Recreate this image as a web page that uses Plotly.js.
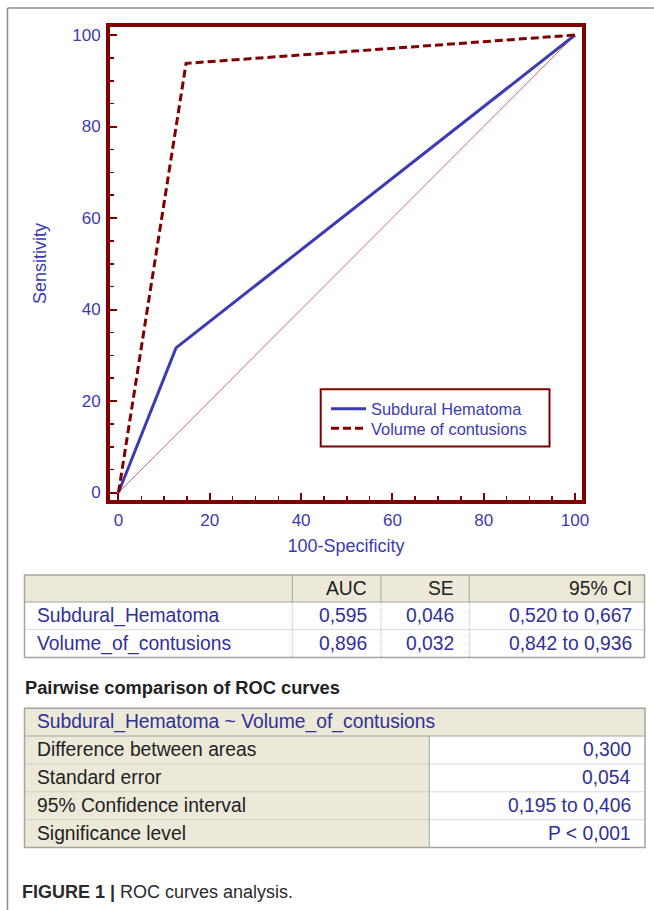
<!DOCTYPE html>
<html>
<head>
<meta charset="utf-8">
<script src="https://cdn.plot.ly/plotly-3.0.1.min.js"></script>
<style>
  html, body { margin: 0; padding: 0; background: #ffffff; }
  #chart { width: 654px; height: 910px; }
</style>
</head>
<body>
<div id="chart"></div>
<script>
// ---------- data ----------
const seriesNames = ['Subdural Hematoma', 'Volume of contusions'];
const subduralFPR = [0, 12.6, 100];      // 100-Specificity
const subduralSens = [0, 31.6, 100];     // Sensitivity
const volumeFPR = [0, 14.8, 100];
const volumeSens = [0, 93.8, 100];
const diagX = [0, 100];
const diagY = [0, 100];
const axisTicks = [0, 20, 40, 60, 80, 100];

const aucHeaders = ['AUC', 'SE', '95% CI'];
const rocNames = ['Subdural_Hematoma', 'Volume_of_contusions'];
const aucValues = ['0,595', '0,896'];
const seValues = ['0,046', '0,032'];
const ciValues = ['0,520 to 0,667', '0,842 to 0,936'];

const pairHeading = 'Pairwise comparison of ROC curves';
const pairTitle = 'Subdural_Hematoma ~ Volume_of_contusions';
const pairLabels = ['Difference between areas', 'Standard error', '95% Confidence interval', 'Significance level'];
const pairValues = ['0,300', '0,054', '0,195 to 0,406', 'P < 0,001'];

const captionBold = 'FIGURE 1 |';
const captionText = 'ROC curves analysis.';

// ---------- styling ----------
const FONT = 'Liberation Sans, Arial, Helvetica, sans-serif';
const DARKRED = '#800000';
const BLUE = '#3b3bb3';
const TEXTBLUE = '#30309a';
const BEIGE = '#ece9d8';
const GRID = '#a4a4a0';
const DOT = '#b4b4b4';
const TS = 19.3; // table font size

const M = {l: 110, r: 72, t: 27, b: 410};
const W = 654, H = 910;
const PW = W - M.l - M.r, PH = H - M.t - M.b;
const px = x => (x - M.l) / PW;
const py = y => (H - M.b - y) / PH;

const shapes = [];
const annotations = [];
function line(x0, y0, x1, y1, color, width, dash) {
  shapes.push({type: 'line', xref: 'paper', yref: 'paper',
    x0: px(x0), y0: py(y0), x1: px(x1), y1: py(y1),
    line: {color: color, width: width, dash: dash || 'solid'}});
}
function rect(x0, y0, x1, y1, fill, color, width) {
  shapes.push({type: 'rect', xref: 'paper', yref: 'paper',
    x0: px(x0), y0: py(y0), x1: px(x1), y1: py(y1),
    fillcolor: fill || 'rgba(0,0,0,0)', line: {color: color || 'rgba(0,0,0,0)', width: width || 0}});
}
function text(str, x, y, anchor, color, size, bold) {
  annotations.push({xref: 'paper', yref: 'paper', x: px(x), y: py(y),
    xanchor: anchor, yanchor: 'middle', showarrow: false, borderpad: 0, borderwidth: 0,
    text: bold ? '<b>' + str + '</b>' : str,
    font: {family: FONT, size: size, color: color}});
}

// outer frame
line(7.5, 8, 7.5, 910, '#8c8c8c', 1.5);
line(7.5, 8, 654, 8, '#8c8c8c', 1.5);

// legend frame
rect(320.7, 389.3, 549.5, 446.5, '#ffffff', DARKRED, 2);

// ---------- table 1 ----------
const t1 = {l: 24.5, r: 644.5, top: 575, hb: 602, rowH: 27.75};
const t1Cols = [292.3, 381, 469.3];
const t1Right = [367, 454, 631.5];
const t1Bottom = t1.hb + rocNames.length * t1.rowH;
rect(t1.l, t1.top, t1.r, t1.hb, BEIGE);
t1Cols.forEach(c => {
  line(c, t1.top, c, t1.hb, GRID, 1);
  line(c, t1.hb, c, t1Bottom, DOT, 1, '1px,1px');
});
for (let i = 1; i < rocNames.length; i++) {
  line(t1.l, t1.hb + i * t1.rowH, t1.r, t1.hb + i * t1.rowH, DOT, 1, '1px,1px');
}
line(t1.l, t1.hb, t1.r, t1.hb, GRID, 1);
rect(t1.l, t1.top, t1.r, t1Bottom, null, GRID, 1.5);
aucHeaders.forEach((h, j) => text(h, t1Right[j], (t1.top + t1.hb) / 2, 'right', '#222222', TS));
rocNames.forEach((n, i) => {
  const yc = t1.hb + (i + 0.5) * t1.rowH;
  text(n, 37, yc, 'left', TEXTBLUE, TS);
  text(aucValues[i], t1Right[0], yc, 'right', TEXTBLUE, TS);
  text(seValues[i], t1Right[1], yc, 'right', TEXTBLUE, TS);
  text(ciValues[i], t1Right[2], yc, 'right', TEXTBLUE, TS);
});

// ---------- heading ----------
text(pairHeading, 25, 687, 'left', '#222222', 18.3, true);

// ---------- table 2 ----------
const t2 = {l: 24.5, r: 645, top: 708.3, hb: 736, rowH: 27.9, col: 429.3};
const t2Bottom = t2.hb + pairLabels.length * t2.rowH;
rect(t2.l, t2.top, t2.r, t2.hb, BEIGE);
rect(t2.l, t2.hb, t2.col, t2Bottom, BEIGE);
for (let i = 1; i < pairLabels.length; i++) {
  line(t2.l, t2.hb + i * t2.rowH, t2.r, t2.hb + i * t2.rowH, DOT, 1, '1px,1px');
}
line(t2.col, t2.hb, t2.col, t2Bottom, GRID, 1);
line(t2.l, t2.hb, t2.r, t2.hb, GRID, 1);
rect(t2.l, t2.top, t2.r, t2Bottom, null, GRID, 1.5);
text(pairTitle, 37, (t2.top + t2.hb) / 2, 'left', TEXTBLUE, TS);
pairLabels.forEach((lab, i) => {
  const yc = t2.hb + (i + 0.5) * t2.rowH;
  text(lab, 37, yc, 'left', '#222222', TS);
  text(pairValues[i], 631, yc, 'right', TEXTBLUE, TS);
});

// ---------- caption ----------
annotations.push({xref: 'paper', yref: 'paper', x: px(22), y: py(891.5),
  xanchor: 'left', yanchor: 'middle', showarrow: false, borderpad: 0, borderwidth: 0,
  text: '<b>' + captionBold + '</b> ' + captionText,
  font: {family: FONT, size: 18, color: '#2a2a2a'}});

// ---------- traces ----------
const traces = [
  {x: diagX, y: diagY, type: 'scatter', mode: 'lines', showlegend: false, hoverinfo: 'skip',
   line: {color: '#d26a6a', width: 1}},
  {x: subduralFPR, y: subduralSens, type: 'scatter', mode: 'lines', name: seriesNames[0],
   legend: 'legend', line: {color: BLUE, width: 3}},
  {x: volumeFPR, y: volumeSens, type: 'scatter', mode: 'lines', name: seriesNames[1],
   legend: 'legend2', line: {color: DARKRED, width: 3, dash: '8px,4px'}}
];

const axisCommon = {
  showline: true, linecolor: DARKRED, linewidth: 4, mirror: true,
  showgrid: false, zeroline: false,
  ticks: 'inside', ticklen: 7, tickwidth: 2, tickcolor: DARKRED,
  tickmode: 'array', tickvals: axisTicks, ticktext: axisTicks.map(String),
  minor: {dtick: 5, tick0: 0, ticks: 'inside', ticklen: 4, tickwidth: 1.5, tickcolor: DARKRED, showgrid: false},
  tickfont: {family: FONT, size: 17, color: BLUE},
  fixedrange: true, automargin: false
};

const legendCommon = {xanchor: 'left', yanchor: 'middle', bgcolor: 'rgba(0,0,0,0)', borderwidth: 0,
  font: {family: FONT, size: 16.4, color: BLUE}, itemwidth: 35};

const layout = {
  width: W, height: H,
  margin: M,
  paper_bgcolor: '#ffffff', plot_bgcolor: '#ffffff',
  showlegend: true,
  legend: Object.assign({}, legendCommon, {x: px(326), y: py(409)}),
  legend2: Object.assign({}, legendCommon, {x: px(326), y: py(428.5)}),
  xaxis: Object.assign({}, axisCommon, {
    range: [-1.86, 101.53],
    title: {text: '100-Specificity', font: {family: FONT, size: 18, color: BLUE}, standoff: 11},
    ticklabelstandoff: 2
  }),
  yaxis: Object.assign({}, axisCommon, {
    range: [-1.64, 101.75],
    title: {text: 'Sensitivity', font: {family: FONT, size: 18, color: BLUE}, standoff: 22},
    ticklabelstandoff: 2
  }),
  shapes: shapes,
  annotations: annotations
};

Plotly.newPlot('chart', traces, layout, {staticPlot: true, displayModeBar: false});
</script>
</body>
</html>
